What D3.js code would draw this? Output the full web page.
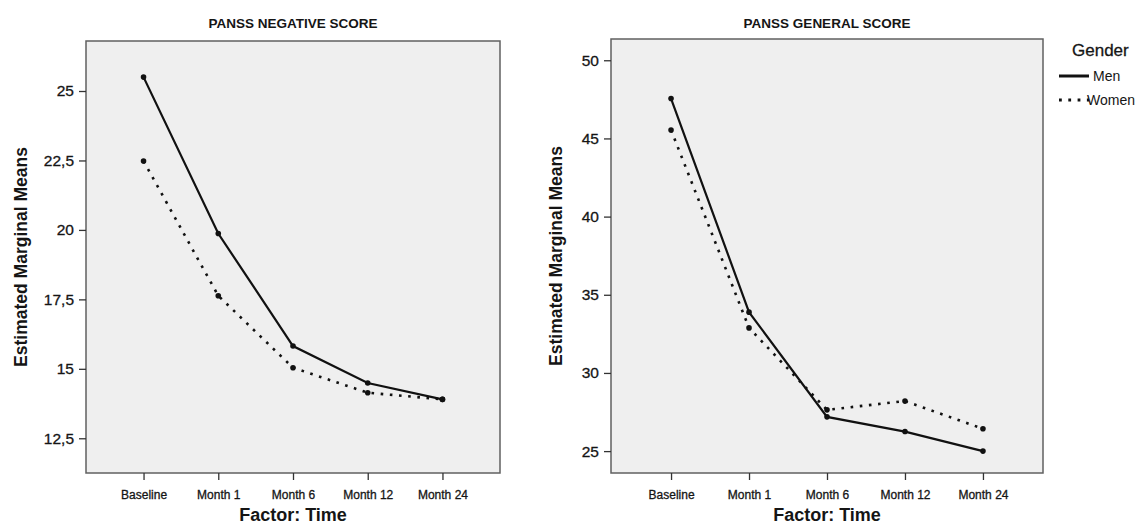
<!DOCTYPE html>
<html lang="en">
<head>
    <meta charset="UTF-8">
    <title>PANSS scores by gender</title>
    <style>
        body{ margin: 0; background: #fff; }
        svg{ display: block; }
        text{ font-family: "Liberation Sans", Arial, sans-serif; fill: #151515; }
    </style>
    <script src="https://d3js.org/d3.v7.min.js"></script>
</head>
<body>
    <div id="svg"></div>
    <script>
        const boxWidth = 1148, boxHeight = 526

        // time points on the x axis
        const timepoints = ["Baseline", "Month 1", "Month 6", "Month 12", "Month 24"]

        // PANSS negative score, estimated marginal means
        const negMen = [25.5, 19.87, 15.82, 14.49, 13.9]
        const negWomen = [22.48, 17.63, 15.04, 14.14, 13.9]
        const negTicks = [12.5, 15, 17.5, 20, 22.5, 25]

        // PANSS general score, estimated marginal means
        const genMen = [47.55, 33.89, 27.19, 26.25, 25.0]
        const genWomen = [45.54, 32.88, 27.64, 28.2, 26.43]
        const genTicks = [25, 30, 35, 40, 45, 50]

        const genders = ["Men", "Women"]

        const panels = [
            { title: "PANSS NEGATIVE SCORE", men: negMen, women: negWomen, ticks: negTicks,
              domain: [11.25, 26.8], left: 86, right: 500, top: 41, bottom: 473, ytitleX: 27 },
            { title: "PANSS GENERAL SCORE", men: genMen, women: genWomen, ticks: genTicks,
              domain: [23.6, 51.36], left: 611, right: 1043, top: 39, bottom: 473, ytitleX: 562 }
        ]

        const svg = d3.select("#svg").append("svg")
            .attr("width", boxWidth).attr("height", boxHeight)

        const fmt = d => String(d).replace(".", ",")

        function renderPanel(p) {
            const g = svg.append("g")

            const xScale = d3.scalePoint()
                .domain(timepoints)
                .range([p.left, p.right])
                .padding(0.77)

            const yScale = d3.scaleLinear()
                .domain(p.domain)
                .range([p.bottom, p.top])

            g.append("rect")
                .attr("x", p.left).attr("y", p.top)
                .attr("width", p.right - p.left).attr("height", p.bottom - p.top)
                .attr("fill", "#efefef")
                .attr("stroke", "#606060")
                .attr("stroke-width", 1.5)

            const xAxis = d3.axisBottom(xScale).tickSize(7).tickPadding(10)
            const xg = g.append("g").attr("transform", `translate(0, ${p.bottom})`).call(xAxis)
            xg.select(".domain").remove()
            xg.selectAll("line").attr("stroke", "#333").attr("stroke-width", 1.3)
            xg.selectAll("text").attr("font-size", 12).attr("fill", "#151515")
                .attr("stroke", "#151515").attr("stroke-width", 0.3)
                .style("font-family", "'Liberation Sans', Arial, sans-serif")

            const yAxis = d3.axisLeft(yScale).tickValues(p.ticks).tickFormat(fmt).tickSize(7).tickPadding(5)
            const yg = g.append("g").attr("transform", `translate(${p.left}, 0)`).call(yAxis)
            yg.select(".domain").remove()
            yg.selectAll("line").attr("stroke", "#333").attr("stroke-width", 1.3)
            yg.selectAll("text").attr("font-size", 15.5).attr("fill", "#151515")
                .attr("stroke", "#151515").attr("stroke-width", 0.3)
                .style("font-family", "'Liberation Sans', Arial, sans-serif")

            const cx = (p.left + p.right) / 2
            const cy = (p.top + p.bottom) / 2

            g.append("text")
                .attr("x", cx).attr("y", 28)
                .attr("text-anchor", "middle")
                .attr("font-size", 13.5).attr("font-weight", "bold")
                .text(p.title)

            g.append("text")
                .attr("x", cx).attr("y", 521)
                .attr("text-anchor", "middle")
                .attr("font-size", 18).attr("font-weight", "bold")
                .text("Factor: Time")

            g.append("text")
                .attr("transform", `translate(${p.ytitleX}, ${cy}) rotate(-90)`)
                .attr("text-anchor", "middle")
                .attr("font-size", 17.5).attr("font-weight", "bold")
                .text("Estimated Marginal Means")

            const line = d3.line()
                .x((d, i) => xScale(timepoints[i]))
                .y(d => yScale(d))

            const series = [
                { values: p.women, dash: "2.6,6.6" },
                { values: p.men, dash: null }
            ]

            series.forEach(s => {
                g.append("path")
                    .datum(s.values)
                    .attr("d", line)
                    .attr("fill", "none")
                    .attr("stroke", "#111")
                    .attr("stroke-width", s.dash ? 2.6 : 2.2)
                    .attr("stroke-dasharray", s.dash)

                g.selectAll(null).data(s.values).enter().append("circle")
                    .attr("cx", (d, i) => xScale(timepoints[i]))
                    .attr("cy", d => yScale(d))
                    .attr("r", 2.8)
                    .attr("fill", "#111")
            })
        }

        panels.forEach(renderPanel)

        // legend
        const lg = svg.append("g")
        lg.append("text")
            .attr("x", 1072).attr("y", 56)
            .attr("font-size", 17)
            .attr("stroke", "#151515").attr("stroke-width", 0.3)
            .text("Gender")

        const legendItems = lg.selectAll(".legend").data(genders).enter().append("g")
            .attr("class", "legend")
            .attr("transform", (d, i) => `translate(1059, ${76 + i * 24})`)

        legendItems.append("line")
            .attr("x1", 0).attr("x2", 30)
            .attr("y1", 0).attr("y2", 0)
            .attr("stroke", "#111")
            .attr("stroke-width", (d, i) => i === 0 ? 3 : 2.8)
            .attr("stroke-dasharray", (d, i) => i === 0 ? null : "2.8,6.5")

        legendItems.append("text")
            .attr("x", (d, i) => i === 0 ? 34 : 28)
            .attr("y", 5)
            .attr("font-size", 14)
            .text(d => d)
    </script>
</body>
</html>
